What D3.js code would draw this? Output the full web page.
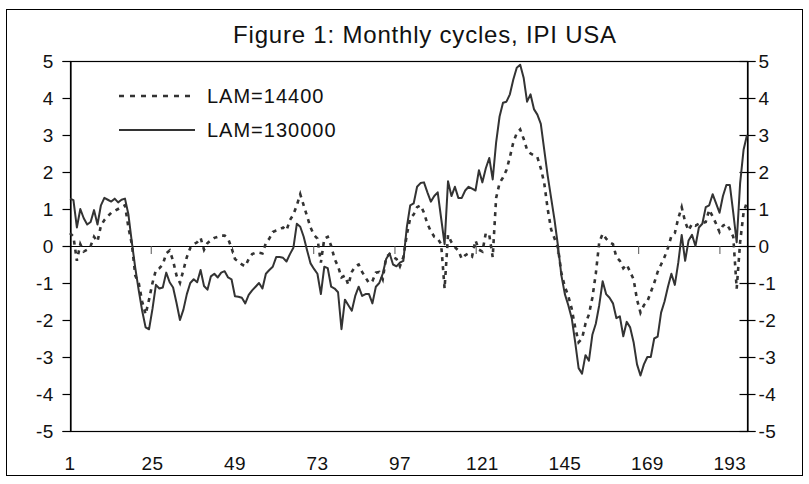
<!DOCTYPE html>
<html lang="en">
<head>
    <meta charset="utf-8">
    <title>Figure 1: Monthly cycles, IPI USA</title>
    <script type="text/javascript" src="https://d3js.org/d3.v7.min.js"></script>
    <style type="text/css">
        body { margin: 0; background: #fff; }
        text { font-family: "Liberation Sans", Arial, Helvetica, sans-serif; fill: #111; }
    </style>
</head>
<body>
<div class="chart"></div>

<script type="text/javascript">

    // months 1..198
    var months = d3.range(1, 199);

    // cycle, LAM=14400 (dashed)
    var lam14400 = [
        0.35, 0.25, -0.4, 0.05, -0.15, -0.1, 0.0, 0.25, 0.12, 0.55,
        0.7, 0.8, 0.9, 0.95, 1.0, 1.05, 1.1, 0.5, 0.05, -0.8,
        -1.0, -1.5, -1.85, -1.45, -1.0, -0.65, -0.6, -0.5, -0.2, -0.12,
        -0.4, -0.8, -1.0, -0.65, -0.3, -0.05, 0.05, 0.1, 0.22, -0.1,
        0.08, 0.15, 0.22, 0.25, 0.28, 0.28, 0.2, -0.05, -0.35, -0.42,
        -0.5, -0.55, -0.35, -0.22, -0.18, -0.18, -0.2, 0.08, 0.2, 0.38,
        0.42, 0.45, 0.5, 0.42, 0.7, 0.85, 1.1, 1.4, 1.1, 0.8,
        0.5, 0.3, 0.2, -0.45, 0.2, 0.25, 0.0, -0.35, -0.55, -0.85,
        -0.8, -1.05, -0.7, -0.55, -0.5, -0.7, -0.85, -1.0, -0.95, -0.72,
        -0.7, -0.9, -0.3, -0.22, -0.3, -0.35, -0.55, -0.3, 0.3, 0.75,
        0.85, 1.05, 1.1, 0.9, 0.6, 0.4, 0.25, 0.2, 0.05, -1.15,
        0.3, 0.1, -0.03, -0.12, -0.35, -0.25, -0.2, -0.28, 0.15, -0.1,
        -0.15, 0.35, 0.3, -0.3, 1.3, 1.7, 1.85, 2.05, 2.4, 2.8,
        3.05, 3.15, 2.9, 2.6, 2.5, 2.45, 2.4, 2.1, 1.7, 1.0,
        0.45, 0.2, -0.05, -0.74, -1.1, -1.35, -1.7, -2.2, -2.6, -2.5,
        -2.1, -1.85, -1.4, -0.75, 0.1, 0.33, 0.2, 0.1, 0.05, -0.3,
        -0.4, -0.6, -0.5, -0.7, -0.9, -1.45, -1.8, -1.6, -1.5, -1.25,
        -1.0, -0.7, -0.5, -0.3, -0.05, 0.27, 0.35, 0.75, 1.05, 0.65,
        0.42, 0.6, 0.55, 0.6, 0.62, 0.65, 0.98, 0.8, 0.6, 0.38,
        0.55, 0.6, 0.45, 0.25, -1.15, 0.1, 0.9, 1.2
    ];

    // cycle, LAM=130000 (solid)
    var lam130000 = [
        1.28, 1.24, 0.5, 1.0, 0.75, 0.58, 0.65, 0.97, 0.58, 1.1,
        1.3, 1.25, 1.2, 1.28, 1.18, 1.25, 1.28, 0.85, 0.1, -0.6,
        -1.2, -1.75, -2.2, -2.25, -1.7, -1.05, -1.15, -1.12, -0.72, -0.98,
        -1.12, -1.54, -2.0, -1.72, -1.3, -1.0, -0.9, -0.98, -0.65, -1.08,
        -1.18, -0.82, -0.75, -0.85, -0.72, -0.68, -0.85, -0.9, -1.36, -1.37,
        -1.4, -1.55, -1.32, -1.2, -1.1, -1.0, -1.15, -0.75, -0.65, -0.56,
        -0.3, -0.3, -0.32, -0.42, -0.22, -0.05, 0.6, 0.52, 0.25, -0.12,
        -0.47, -0.62, -0.75, -1.3, -0.56, -0.6, -1.1, -1.15, -1.25, -2.25,
        -1.45, -1.6, -1.75, -1.35, -1.1, -1.35, -1.3, -1.3, -1.55, -1.1,
        -1.0, -0.75, -0.35, -0.2, -0.5, -0.55, -0.45, -0.4, 0.5, 1.1,
        1.15, 1.6, 1.7, 1.72, 1.45, 1.2, 1.35, 1.45, 0.75, 0.05,
        1.75, 1.35, 1.6, 1.3, 1.3, 1.5, 1.6, 1.55, 1.5, 2.05,
        1.72, 2.1, 2.38, 1.8, 2.8, 3.5, 3.87, 3.9, 4.1, 4.5,
        4.82, 4.9, 4.55, 3.9, 4.1, 3.7, 3.55, 3.3, 2.6, 1.9,
        1.3, 0.7, 0.0, -0.8, -1.3, -1.6, -1.95, -2.6, -3.3, -3.45,
        -2.95, -3.1, -2.4, -2.1, -1.6, -0.95, -1.3, -1.4, -1.55, -1.95,
        -1.9, -2.44, -2.05, -2.2, -2.6, -3.2, -3.5, -3.2, -3.0, -3.0,
        -2.5, -2.45, -1.8, -1.5, -1.1, -0.75, -1.05, -0.45, 0.3, -0.4,
        0.15, 0.3, 0.0, 0.5, 0.6, 1.05, 1.1, 1.4, 1.15, 0.9,
        1.35, 1.65, 1.65, 0.9, 0.1, 1.7, 2.6, 3.0
    ];

    var xTickLabels = [1, 25, 49, 73, 97, 121, 145, 169, 193];
    var yTicks = d3.range(-5, 6);
    var seriesNames = ["LAM=14400", "LAM=130000"];

    var width = 809, height = 484;
    var plot = {left: 70, right: 747, top: 61, bottom: 431};

    var svg = d3.select(".chart")
        .append("svg")
        .attr("width", width)
        .attr("height", height);

    // outer frame
    svg.append("rect")
        .attr("x", 6.5).attr("y", 9.5)
        .attr("width", 796).attr("height", 466)
        .attr("fill", "none")
        .attr("stroke", "#000")
        .attr("stroke-width", 1);

    var x = d3.scaleLinear()
        .domain([1, months.length])
        .range([plot.left, plot.right]);

    // tick marks on the zero axis sit on a slightly different grid
    var xTickPos = d3.scaleLinear()
        .domain([0, 200])
        .range([plot.left, plot.right]);

    var y = d3.scaleLinear()
        .domain([-5, 5])
        .range([plot.bottom, plot.top]);

    // plain hyphen for negatives, like the original
    var fmt = function (d) { return String(d); };

    // plot border
    svg.append("rect")
        .attr("x", plot.left + 0.5).attr("y", plot.top + 0.5)
        .attr("width", plot.right - plot.left).attr("height", plot.bottom - plot.top)
        .attr("fill", "none")
        .attr("stroke", "#000")
        .attr("stroke-width", 1.2);

    // left axis
    var leftAxis = svg.append("g")
        .attr("transform", "translate(" + (plot.left + 0.5) + ",0)")
        .call(d3.axisLeft(y).tickValues(yTicks).tickSize(8).tickPadding(9).tickFormat(fmt));

    // right axis
    var rightAxis = svg.append("g")
        .attr("transform", "translate(" + (plot.right + 0.5) + ",0)")
        .call(d3.axisRight(y).tickValues(yTicks).tickSize(8).tickPadding(3).tickFormat(fmt));
    rightAxis.selectAll(".tick line").attr("x1", -8);

    [leftAxis, rightAxis].forEach(function (a) {
        a.select(".domain").attr("stroke", "#000").attr("stroke-width", 1.2);
        a.selectAll(".tick line").attr("stroke", "#000").attr("stroke-width", 1.2);
        a.selectAll("text")
            .style("font-size", "19px")
            .style("letter-spacing", "0.3px")
            .attr("fill", "#111");
    });

    // zero line with its tick marks
    svg.append("line")
        .attr("x1", plot.left).attr("x2", plot.right)
        .attr("y1", Math.round(y(0)) + 0.5).attr("y2", Math.round(y(0)) + 0.5)
        .attr("stroke", "#000")
        .attr("stroke-width", 1.2);

    svg.selectAll(".zeroTick")
        .data(d3.range(24, 200, 24))
        .enter()
        .append("line")
        .attr("class", "zeroTick")
        .attr("x1", function (d) { return xTickPos(d); })
        .attr("x2", function (d) { return xTickPos(d); })
        .attr("y1", y(0))
        .attr("y2", y(0) + 8)
        .attr("stroke", "#555")
        .attr("stroke-width", 1);

    // category labels along the bottom
    svg.selectAll(".xLabel")
        .data(xTickLabels)
        .enter()
        .append("text")
        .attr("class", "xLabel")
        .attr("x", function (d) { return x(d); })
        .attr("y", 463)
        .attr("dy", "0.35em")
        .style("text-anchor", "middle")
        .style("font-size", "19px")
        .style("letter-spacing", "0.3px")
        .text(function (d) { return d; });

    // lines
    var line = d3.line()
        .x(function (d, i) { return x(months[i]); })
        .y(function (d) { return y(d); });

    svg.append("path")
        .datum(lam130000)
        .attr("d", line)
        .attr("fill", "none")
        .attr("stroke", "#333")
        .attr("stroke-width", 2)
        .attr("stroke-linejoin", "round");

    svg.append("path")
        .datum(lam14400)
        .attr("d", line)
        .attr("fill", "none")
        .attr("stroke", "#333")
        .attr("stroke-width", 2.6)
        .attr("stroke-dasharray", "4,5");

    // title
    svg.append("text")
        .attr("x", 425)
        .attr("y", 35)
        .attr("dy", "0.35em")
        .style("text-anchor", "middle")
        .style("font-size", "24px")
        .style("letter-spacing", "0.8px")
        .text("Figure 1: Monthly cycles, IPI USA");

    // legend
    var legend = svg.selectAll(".legend")
        .data(seriesNames)
        .enter()
        .append("g")
        .attr("class", "legend")
        .attr("transform", function (d, i) { return "translate(119," + (96 + i * 34) + ")"; });

    legend.append("line")
        .attr("x1", 0).attr("x2", 76)
        .attr("y1", 0).attr("y2", 0)
        .attr("stroke", "#333")
        .attr("stroke-width", function (d, i) { return i === 0 ? 2.6 : 2; })
        .attr("stroke-dasharray", function (d, i) { return i === 0 ? "5,6" : null; });

    legend.append("text")
        .attr("x", 88)
        .attr("dy", "0.35em")
        .style("font-size", "20px")
        .style("letter-spacing", "1px")
        .text(function (d) { return d; });

</script>
</body>
</html>
